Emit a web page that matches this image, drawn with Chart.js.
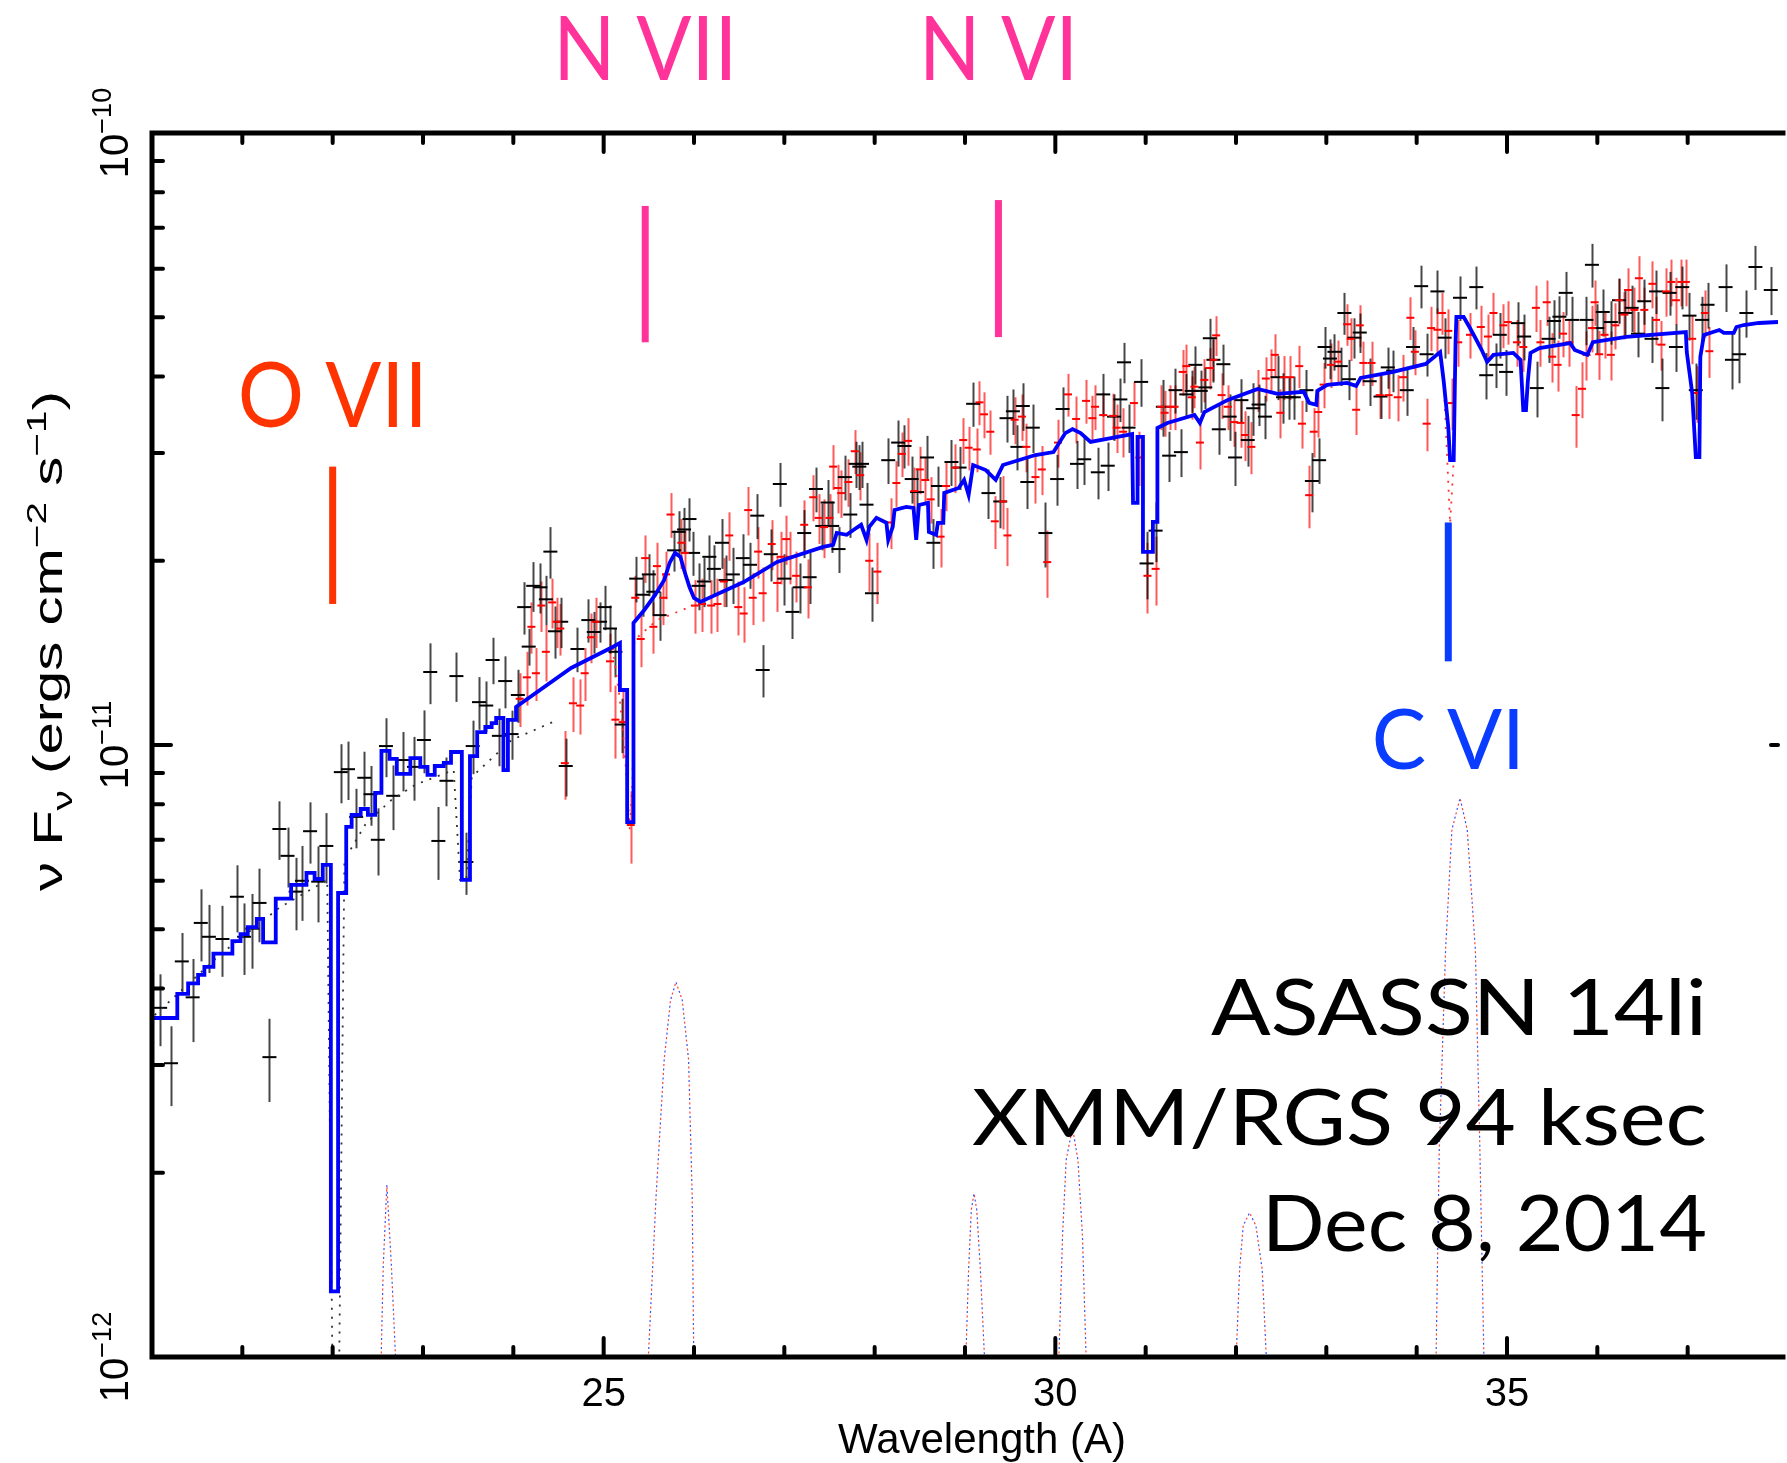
<!DOCTYPE html>
<html>
<head>
<meta charset="utf-8">
<title>ASASSN 14li RGS spectrum</title>
<script src="https://cdn.jsdelivr.net/npm/chart.js"></script>
<style>
  html, body { margin: 0; padding: 0; background: #fff; }
  #wrap { width: 1787px; height: 1463px; }
</style>
</head>
<body>
<div id="wrap"><canvas id="spec" width="1787" height="1463"></canvas></div>
<script>
// flux values are in units of 1e-11 ergs cm^-2 s^-1
const UNIT = 1e-11;

// best-fit model (blue histogram)
const modelWl = [20.00,20.28,20.28,20.40,20.40,20.51,20.51,20.58,20.58,20.68,20.68,20.89,20.89,20.98,20.98,21.06,21.06,21.16,21.16,21.23,21.23,21.37,21.37,21.54,21.54,21.71,21.71,21.80,21.80,21.89,21.89,21.98,21.98,22.06,22.06,22.15,22.15,22.21,22.21,22.31,22.31,22.39,22.39,22.47,22.47,22.54,22.54,22.63,22.63,22.71,22.71,22.86,22.86,22.97,22.97,23.05,23.05,23.13,23.13,23.23,23.23,23.31,23.31,23.43,23.43,23.52,23.52,23.60,23.60,23.69,23.69,23.76,23.76,23.81,23.81,23.89,23.89,23.94,23.94,24.03,24.03,24.64,25.10,25.18,25.18,25.26,25.26,25.33,25.33,25.45,25.57,25.67,25.73,25.79,25.85,25.89,25.95,26.00,26.07,26.55,26.92,27.43,27.54,27.58,27.69,27.80,27.85,27.91,27.94,28.02,28.13,28.15,28.20,28.22,28.35,28.43,28.46,28.49,28.59,28.60,28.68,28.70,28.76,28.77,28.93,28.99,29.04,29.09,29.23,29.34,29.42,29.78,29.98,30.11,30.19,30.28,30.39,30.63,30.85,30.86,30.91,30.91,30.97,30.97,31.08,31.08,31.13,31.13,31.24,31.54,31.60,31.65,31.91,32.24,32.46,32.75,32.81,32.89,32.90,33.01,33.23,33.33,33.38,33.74,34.10,34.26,34.30,34.35,34.37,34.41,34.43,34.44,34.52,34.59,34.65,34.72,34.78,34.85,35.07,35.15,35.18,35.21,35.23,35.26,35.36,35.70,35.75,35.89,35.95,36.32,36.98,36.99,37.05,37.09,37.13,37.14,37.18,37.35,37.40,37.51,37.54,37.62,37.79,38.00];
const modelFlux = [0.358,0.358,0.392,0.392,0.408,0.408,0.421,0.421,0.434,0.434,0.456,0.456,0.478,0.478,0.491,0.491,0.504,0.504,0.520,0.520,0.476,0.476,0.561,0.561,0.591,0.591,0.618,0.618,0.604,0.604,0.637,0.637,0.128,0.128,0.573,0.573,0.735,0.735,0.769,0.769,0.786,0.786,0.769,0.769,0.835,0.835,0.978,0.978,0.949,0.949,0.897,0.897,0.952,0.952,0.921,0.921,0.894,0.894,0.924,0.924,0.935,0.935,0.974,0.974,0.602,0.602,0.959,0.959,1.050,1.050,1.070,1.070,1.086,1.086,1.107,1.107,0.910,0.910,1.099,1.099,1.154,1.336,1.446,1.468,1.230,1.230,0.748,0.748,1.583,1.662,1.759,1.860,1.984,2.060,2.029,1.932,1.812,1.739,1.713,1.846,1.991,2.107,2.123,2.221,2.205,2.264,2.290,2.163,2.272,2.350,2.307,2.163,2.272,2.421,2.449,2.440,2.163,2.467,2.486,2.229,2.205,2.307,2.307,2.581,2.630,2.712,2.561,2.867,2.813,2.712,2.867,2.977,3.010,3.233,3.282,3.233,3.127,3.175,3.221,2.486,2.486,3.187,3.187,2.068,2.068,2.315,2.315,3.296,3.358,3.461,3.358,3.500,3.663,3.818,3.747,3.776,3.622,3.595,3.790,3.877,3.906,3.862,3.980,4.071,4.195,4.385,3.921,3.307,2.922,2.922,4.536,5.004,5.004,4.801,4.624,4.420,4.226,4.339,4.372,4.258,3.527,3.527,3.921,4.372,4.453,4.536,4.420,4.339,4.553,4.642,4.730,4.385,3.762,2.954,2.954,4.305,4.677,4.766,4.713,4.713,4.820,4.856,4.893,4.911];

// continuum model without lines (dotted)
const contBlackWl = [20.03,20.75,21.41,21.94,22.00,22.07,22.13,22.37,22.65,22.92,23.34,23.41,23.48,23.54,23.98,24.49];
const contBlackFlux = [0.362,0.454,0.542,0.602,0.09,0.09,0.649,0.745,0.813,0.862,0.910,0.602,0.602,0.887,1.019,1.099];
const contRedWl = [25.10,25.18,25.24,25.29,25.32,25.34,25.59,25.95,26.11,null,34.30,34.37,34.41];
const contRedFlux = [1.44,1.184,0.945,0.726,0.877,1.484,1.60,1.68,1.713,null,3.92,2.30,2.92];

// emission line components (dotted)
const lineAWl = [22.53,22.56,22.60,22.65,22.71];
const lineAFlux = [0.09,0.141,0.191,0.141,0.09];
const lineBWl = [25.48,25.58,25.67,25.74,25.80,25.87,25.94,25.98,26.00];
const lineBFlux = [0.09,0.183,0.306,0.383,0.410,0.383,0.306,0.183,0.09];
const lineCWl = [29.00,29.04,29.07,29.10,29.13,29.17,29.23];
const lineCFlux = [0.09,0.139,0.174,0.185,0.174,0.139,0.09];
const lineDWl = [30.03,30.08,30.12,30.19,30.25,30.30,30.35];
const lineDFlux = [0.09,0.158,0.210,0.237,0.210,0.158,0.09];
const lineEWl = [31.99,32.04,32.08,32.15,32.22,32.29,32.35];
const lineEFlux = [0.09,0.139,0.164,0.172,0.164,0.139,0.09];
const lineFWl = [34.21,34.25,34.32,34.39,34.48,34.56,34.65,34.70,34.75];
const lineFFlux = [0.09,0.218,0.462,0.727,0.819,0.727,0.462,0.218,0.09];

// RGS1 data (black)
const rgs1Wl = [20.09,20.21,20.33,20.45,20.54,20.63,20.78,20.94,21.02,21.11,21.19,21.30,21.41,21.50,21.59,21.66,21.75,21.84,21.93,22.09,22.17,22.26,22.35,22.42,22.50,22.59,22.67,22.78,22.90,23.01,23.08,23.17,23.26,23.37,23.48,23.55,23.62,23.70,23.77,23.84,23.91,23.98,24.05,24.12,24.17,24.22,24.30,24.36,24.41,24.46,24.53,24.58,24.71,24.83,24.89,24.96,25.01,25.07,25.13,25.20,25.36,25.43,25.50,25.55,25.62,25.78,25.83,25.89,25.95,25.99,26.05,26.11,26.17,26.22,26.31,26.35,26.43,26.54,26.62,26.70,26.76,26.85,26.95,27.00,27.09,27.17,27.22,27.28,27.35,27.42,27.48,27.53,27.60,27.67,27.73,27.79,27.83,27.86,27.91,27.97,28.15,28.26,28.33,28.41,28.47,28.58,28.65,28.70,28.85,28.94,29.09,29.26,29.39,29.46,29.53,29.58,29.64,29.69,29.75,29.89,30.02,30.08,30.24,30.32,30.47,30.53,30.58,30.65,30.72,30.76,30.81,30.95,31.01,31.11,31.19,31.26,31.33,31.39,31.45,31.51,31.55,31.61,31.66,31.71,31.75,31.81,31.86,31.93,31.99,32.06,32.13,32.19,32.25,32.32,32.46,32.52,32.59,32.64,32.78,32.84,32.92,32.98,33.04,33.09,33.16,33.20,33.25,33.31,33.37,33.48,33.60,33.68,33.74,33.89,33.96,34.05,34.11,34.23,34.31,34.48,34.66,34.77,34.88,34.92,34.99,35.12,35.19,35.33,35.46,35.52,35.58,35.65,35.72,35.88,35.94,36.00,36.06,36.15,36.24,36.31,36.38,36.45,36.52,36.60,36.65,36.72,36.80,36.87,36.94,37.02,37.09,37.16,37.22,37.42,37.49,37.57,37.65,37.75,37.92];
const rgs1Flux = [0.372,0.302,0.443,0.387,0.512,0.486,0.482,0.565,0.486,0.501,0.552,0.309,0.729,0.659,0.576,0.600,0.723,0.598,0.684,0.903,0.913,0.763,0.884,0.831,0.700,0.996,0.826,0.945,0.921,1.019,1.316,0.697,0.874,1.296,0.644,0.996,1.175,1.160,1.377,1.035,1.272,1.042,1.207,1.680,1.448,1.820,1.810,1.730,2.070,1.534,1.590,0.924,1.435,1.600,1.530,1.590,1.680,1.550,1.420,1.080,1.870,1.760,1.900,1.780,1.630,2.080,2.230,2.250,2.340,2.060,1.820,1.850,2.030,1.940,2.140,1.860,1.900,2.020,1.970,2.370,1.326,2.050,2.670,1.870,1.650,1.810,2.220,1.880,2.620,2.280,2.490,2.280,2.090,2.740,2.380,2.880,2.850,2.880,2.470,1.770,2.920,3.120,3.080,2.720,2.590,2.950,2.140,2.650,2.900,2.840,3.610,2.580,2.500,3.420,3.510,3.070,3.580,2.690,3.300,2.220,2.720,3.540,2.880,2.930,2.790,3.740,2.860,3.440,3.670,4.220,3.300,3.920,1.980,2.240,3.570,2.970,3.800,3.010,3.740,3.790,4.180,3.790,3.840,4.620,4.260,3.280,4.190,3.440,2.950,3.660,3.150,3.550,3.600,3.440,3.990,3.700,3.700,3.700,3.800,2.700,2.920,4.470,4.280,4.390,4.160,5.080,3.960,4.630,4.720,3.930,3.710,4.140,4.090,3.800,4.470,5.620,4.350,5.510,4.630,5.380,5.600,4.020,4.180,4.680,4.070,4.890,4.650,3.830,4.610,4.930,5.010,5.480,4.950,4.950,6.090,4.800,5.100,4.910,5.330,5.080,5.180,4.700,5.310,4.610,5.510,3.830,5.480,4.470,5.600,5.030,3.800,4.950,5.240,5.600,4.260,4.350,5.080,6.040,5.540];
const rgs1Err = [0.050,0.045,0.050,0.060,0.069,0.062,0.064,0.071,0.065,0.070,0.076,0.048,0.080,0.074,0.078,0.084,0.083,0.085,0.090,0.100,0.100,0.085,0.091,0.093,0.088,0.110,0.100,0.105,0.110,0.120,0.150,0.095,0.080,0.120,0.075,0.100,0.116,0.110,0.120,0.112,0.124,0.096,0.120,0.165,0.100,0.170,0.170,0.160,0.200,0.150,0.150,0.100,0.120,0.130,0.120,0.120,0.140,0.140,0.130,0.110,0.160,0.140,0.150,0.150,0.150,0.160,0.180,0.190,0.190,0.170,0.160,0.170,0.170,0.180,0.200,0.180,0.200,0.190,0.170,0.200,0.130,0.200,0.220,0.180,0.160,0.170,0.200,0.180,0.220,0.200,0.220,0.220,0.180,0.230,0.200,0.250,0.240,0.250,0.210,0.180,0.250,0.270,0.250,0.240,0.240,0.250,0.200,0.200,0.250,0.230,0.300,0.240,0.240,0.300,0.300,0.260,0.320,0.260,0.300,0.270,0.260,0.300,0.260,0.270,0.270,0.300,0.260,0.300,0.300,0.320,0.300,0.350,0.250,0.250,0.380,0.280,0.320,0.270,0.300,0.300,0.300,0.300,0.300,0.350,0.350,0.300,0.320,0.300,0.300,0.300,0.300,0.350,0.280,0.280,0.330,0.350,0.300,0.300,0.300,0.300,0.250,0.350,0.320,0.300,0.300,0.400,0.300,0.350,0.350,0.350,0.300,0.320,0.320,0.350,0.350,0.450,0.350,0.450,0.350,0.450,0.450,0.350,0.350,0.400,0.350,0.400,0.400,0.400,0.400,0.400,0.400,0.450,0.450,0.450,0.500,0.450,0.450,0.400,0.450,0.450,0.450,0.400,0.450,0.400,0.450,0.450,0.450,0.400,0.450,0.450,0.400,0.450,0.450,0.500,0.450,0.450,0.450,0.500,0.500];

// RGS2 data (red)
const rgs2Wl = [24.07,24.15,24.20,24.25,24.31,24.36,24.43,24.48,24.52,24.57,24.66,24.74,24.79,24.86,24.91,25.07,25.13,25.21,25.30,25.35,25.41,25.46,25.55,25.59,25.66,25.69,25.74,25.86,25.90,26.01,26.09,26.19,26.26,26.33,26.39,26.49,26.55,26.60,26.65,26.71,26.76,26.86,26.92,26.96,27.02,27.06,27.13,27.22,27.26,27.32,27.38,27.44,27.50,27.54,27.59,27.63,27.71,27.78,27.84,27.94,28.03,28.18,28.24,28.30,28.37,28.44,28.50,28.56,28.62,28.73,28.79,28.89,28.98,29.04,29.13,29.16,29.21,29.28,29.33,29.42,29.47,29.55,29.63,29.68,29.78,29.85,29.91,30.03,30.14,30.23,30.34,30.41,30.44,30.53,30.64,30.68,30.75,30.87,30.93,31.02,31.11,31.17,31.21,31.27,31.32,31.41,31.45,31.51,31.54,31.60,31.65,31.71,31.75,31.78,31.84,31.91,31.98,32.05,32.10,32.17,32.24,32.33,32.39,32.43,32.49,32.53,32.60,32.70,32.73,32.81,32.86,32.91,32.97,33.05,33.13,33.23,33.27,33.33,33.37,33.41,33.50,33.59,33.69,33.79,33.85,33.93,33.98,34.11,34.16,34.23,34.28,34.35,34.39,34.46,34.59,34.71,34.79,34.85,34.96,35.01,35.11,35.18,35.32,35.37,35.44,35.50,35.56,35.62,35.69,35.76,35.83,35.88,35.94,35.97,36.02,36.08,36.15,36.20,36.24,36.30,36.34,36.41,36.46,36.52,36.61,36.65,36.71,36.76,36.82,36.87,36.93,36.98,37.05,37.10,37.19,37.24];
const rgs2Flux = [1.19,1.29,1.56,1.31,1.69,1.42,1.71,1.59,1.55,0.934,1.17,1.16,1.31,1.50,1.59,1.37,1.10,1.09,0.74,1.74,1.49,2.02,1.56,1.96,1.74,1.90,2.38,2.14,2.06,1.69,1.70,1.69,1.70,1.85,2.20,1.68,1.64,2.42,1.74,2.07,1.77,2.13,1.84,2.03,2.17,2.03,1.89,2.29,1.81,2.54,2.35,2.27,2.35,2.85,2.63,2.58,2.69,3.02,2.76,2.00,1.92,2.31,2.68,2.99,3.14,2.60,2.82,2.71,2.52,2.19,2.65,2.84,3.15,3.06,3.04,3.63,3.47,3.25,2.32,2.50,2.20,3.40,3.44,3.07,2.74,2.82,1.99,3.12,3.74,3.41,3.65,3.42,3.57,3.46,3.45,3.30,3.25,3.62,2.95,1.89,1.94,3.57,3.49,3.57,3.57,4.07,4.16,3.70,3.85,3.12,3.95,4.13,4.26,4.67,3.73,3.57,3.37,3.36,3.21,3.07,3.80,3.97,4.10,4.34,3.49,3.99,3.99,4.16,3.35,2.56,3.25,3.50,3.88,4.18,4.23,4.87,4.61,3.53,4.85,4.21,4.21,3.73,3.73,3.70,3.99,4.99,4.39,3.35,4.80,4.77,5.08,4.75,3.62,4.55,4.68,4.82,4.65,5.08,4.85,4.91,4.55,4.47,5.18,4.55,5.29,4.31,4.18,4.70,4.55,3.46,3.82,4.34,4.80,5.29,4.35,4.68,4.34,4.85,5.33,5.05,5.54,5.14,5.79,5.14,5.67,4.95,4.51,5.51,5.71,5.33,5.71,5.71,4.61,3.76,5.08,4.40];
const rgs2Err = [0.12,0.13,0.15,0.13,0.16,0.15,0.16,0.15,0.15,0.12,0.12,0.12,0.13,0.14,0.15,0.15,0.15,0.14,0.10,0.15,0.15,0.18,0.15,0.18,0.17,0.17,0.20,0.20,0.18,0.17,0.17,0.17,0.17,0.17,0.20,0.17,0.17,0.22,0.17,0.20,0.18,0.20,0.19,0.20,0.20,0.20,0.18,0.22,0.20,0.22,0.22,0.25,0.22,0.24,0.24,0.23,0.24,0.25,0.25,0.22,0.22,0.22,0.23,0.25,0.28,0.24,0.25,0.24,0.22,0.24,0.24,0.26,0.27,0.25,0.25,0.30,0.30,0.27,0.23,0.25,0.24,0.30,0.30,0.28,0.26,0.26,0.25,0.28,0.30,0.30,0.30,0.30,0.30,0.30,0.30,0.30,0.30,0.30,0.30,0.25,0.25,0.30,0.30,0.30,0.30,0.35,0.35,0.30,0.30,0.30,0.32,0.32,0.33,0.35,0.32,0.30,0.30,0.30,0.30,0.30,0.30,0.33,0.33,0.35,0.32,0.33,0.33,0.33,0.30,0.30,0.30,0.32,0.33,0.35,0.35,0.38,0.37,0.32,0.38,0.35,0.35,0.32,0.32,0.32,0.35,0.40,0.37,0.33,0.40,0.40,0.40,0.40,0.35,0.40,0.40,0.40,0.40,0.40,0.40,0.40,0.40,0.40,0.45,0.40,0.45,0.40,0.40,0.40,0.40,0.40,0.40,0.40,0.42,0.45,0.40,0.40,0.40,0.42,0.45,0.45,0.47,0.45,0.50,0.45,0.50,0.45,0.42,0.50,0.50,0.47,0.50,0.50,0.42,0.40,0.45,0.42];

// line identifications
const ionNames = ['O VII', 'N VII', 'N VI', 'C VI'];
const ionWl = [22.00, 25.46, 29.37, 34.35];
const ionBarTop = [2.85, 7.60, 7.77, 2.31];
const ionBarBottom = [1.70, 4.55, 4.64, 1.37];
const ionColors = ['#ff3300', '#ff3399', '#ff3399', '#0a3cff'];

const titleLines = ['ASASSN 14li', 'XMM/RGS 94 ksec', 'Dec 8, 2014'];

const xMajor = [25, 30, 35];

// ---- build datasets ----
function pts(wl, fl, er) {
  return wl.map((w, i) => ({
    x: w === null ? 0 : w,
    y: fl[i] === null ? null : fl[i] * UNIT,
    e: er ? er[i] * UNIT : 0
  }));
}
const model = pts(modelWl, modelFlux);
const contBlack = pts(contBlackWl, contBlackFlux);
const contRed = pts(contRedWl, contRedFlux).map((p, i) => contRedWl[i] === null ? { x: 30, y: null } : p);
const gauss = [];
[[lineAWl, lineAFlux], [lineBWl, lineBFlux], [lineCWl, lineCFlux], [lineDWl, lineDFlux], [lineEWl, lineEFlux], [lineFWl, lineFFlux]].forEach(([w, f]) => {
  pts(w, f).forEach(p => gauss.push(p));
  gauss.push({ x: w[w.length - 1] + 0.01, y: null });
});
const rgs1 = pts(rgs1Wl, rgs1Flux, rgs1Err);
const rgs2 = pts(rgs2Wl, rgs2Flux, rgs2Err);

const SANS = '"Liberation Sans", Arial, Helvetica, sans-serif';
const TITLE_FONT = 'Lato, "Open Sans", sans-serif';

// vertical error bars, drawn under the model
const errorBars = {
  id: 'errorBars',
  beforeDatasetsDraw(chart) {
    const { ctx, chartArea: a, scales: { x, y } } = chart;
    ctx.save();
    ctx.beginPath();
    ctx.rect(a.left, a.top, a.right - a.left, a.bottom - a.top);
    ctx.clip();
    chart.data.datasets.forEach(ds => {
      if (!ds.errorColor) return;
      ctx.strokeStyle = ds.errorColor;
      ctx.lineWidth = 2;
      ds.data.forEach(p => {
        const px = Math.round(x.getPixelForValue(p.x)) + 0.5;
        ctx.beginPath();
        ctx.moveTo(px, y.getPixelForValue(p.y + p.e));
        ctx.lineTo(px, y.getPixelForValue(Math.max(p.y - p.e, 1e-13)));
        ctx.stroke();
      });
    });
    ctx.restore();
  }
};

function richDraw(ctx, parts, base, x0, y0, measureOnly) {
  let x = x0;
  for (const p of parts) {
    ctx.font = Math.round(base * p.s) + 'px ' + SANS;
    if (!measureOnly) ctx.fillText(p.t, x, y0 + p.dy * base);
    x += ctx.measureText(p.t).width;
  }
  return x - x0;
}

// frame, ticks and axis texts
const frame = {
  id: 'frame',
  afterDraw(chart) {
    const { ctx, chartArea: a, scales: { x, y } } = chart;
    ctx.save();
    ctx.strokeStyle = '#000';
    ctx.fillStyle = '#000';
    ctx.lineWidth = 5;
    ctx.lineCap = 'square';
    ctx.beginPath();
    ctx.moveTo(a.right + 5, a.top);
    ctx.lineTo(a.left, a.top);
    ctx.lineTo(a.left, a.bottom);
    ctx.lineTo(a.right + 5, a.bottom);
    ctx.stroke();

    ctx.lineWidth = 4;
    ctx.lineCap = 'round';
    for (let v = 21; v <= 37; v++) {
      const px = x.getPixelForValue(v);
      const len = xMajor.includes(v) ? 19 : 10;
      ctx.beginPath();
      ctx.moveTo(px, a.bottom); ctx.lineTo(px, a.bottom - len);
      ctx.moveTo(px, a.top); ctx.lineTo(px, a.top + len);
      ctx.stroke();
    }
    [-12, -11, -10].forEach(d => {
      for (let m = 1; m <= 9; m++) {
        const v = m * Math.pow(10, d);
        if (v <= 1e-12 || v >= 1e-10) continue;
        const py = y.getPixelForValue(v);
        const len = m === 1 ? 19 : 11;
        ctx.beginPath();
        ctx.moveTo(a.left, py); ctx.lineTo(a.left + len, py);
        ctx.stroke();
        if (m === 1) {
          ctx.beginPath();
          ctx.moveTo(a.right, py); ctx.lineTo(a.right - 7, py);
          ctx.stroke();
        }
      }
    });

    // x tick labels
    ctx.font = '40px ' + SANS;
    ctx.textAlign = 'center';
    ctx.textBaseline = 'alphabetic';
    xMajor.forEach(v => ctx.fillText(String(v), x.getPixelForValue(v), a.bottom + 49));

    // y tick labels, rotated
    ctx.textAlign = 'left';
    [-12, -11, -10].forEach(d => {
      const parts = [{ t: '10', s: 1, dy: 0 }, { t: '\u2212' + String(-d), s: 0.68, dy: -0.42 }];
      const w = richDraw(ctx, parts, 40, 0, 0, true);
      ctx.save();
      ctx.translate(a.left - 24, y.getPixelForValue(Math.pow(10, d)));
      ctx.rotate(-Math.PI / 2);
      richDraw(ctx, parts, 40, -w / 2, 0);
      ctx.restore();
    });

    // axis titles
    ctx.font = '42px ' + SANS;
    ctx.textAlign = 'center';
    ctx.fillText('Wavelength (A)', 982, a.bottom + 96);

    ctx.textAlign = 'left';
    const yt = [
      { t: '\u03bd F', s: 1, dy: 0 }, { t: '\u03bd', s: 0.7, dy: 0.25 },
      { t: ' (ergs cm', s: 1, dy: 0 }, { t: '\u22122', s: 0.7, dy: -0.4 },
      { t: ' s', s: 1, dy: 0 }, { t: '\u22121', s: 0.7, dy: -0.4 }, { t: ')', s: 1, dy: 0 }
    ];
    const tw = richDraw(ctx, yt, 40, 0, 0, true);
    const target = 500;
    ctx.save();
    ctx.translate(62, 641);
    ctx.rotate(-Math.PI / 2);
    ctx.scale(target / tw, 1);
    richDraw(ctx, yt, 40, -tw / 2, 0);
    ctx.restore();
    ctx.restore();
  }
};

function fitText(ctx, str, x0, baseline, size, width, align) {
  ctx.font = size + 'px ' + TITLE_FONT;
  const w = ctx.measureText(str).width;
  ctx.save();
  ctx.translate(x0, baseline);
  ctx.scale(width / w, 1);
  ctx.textAlign = align;
  ctx.fillText(str, 0, 0);
  ctx.restore();
}

// ion markers and the observation title
const annotations = {
  id: 'annotations',
  afterDraw(chart) {
    const { ctx, scales: { x, y } } = chart;
    ctx.save();
    ctx.textBaseline = 'alphabetic';
    const textPos = [[427, 91, 190], [80, 89, 184], [80, 89, 159], [769, 84, 153]];
    ionNames.forEach((name, i) => {
      const px = x.getPixelForValue(ionWl[i]);
      ctx.fillStyle = ionColors[i];
      ctx.fillRect(px - 3.5, y.getPixelForValue(ionBarTop[i] * UNIT), 7,
        y.getPixelForValue(ionBarBottom[i] * UNIT) - y.getPixelForValue(ionBarTop[i] * UNIT));
      const [base, size, w] = textPos[i];
      fitText(ctx, name, px, base, size, w, 'center');
    });
    ctx.fillStyle = '#000';
    const tl = [[1035, 496], [1145, 735], [1251, 445]];
    titleLines.forEach((s, i) => fitText(ctx, s, 1707, tl[i][0], 77, tl[i][1], 'right'));
    ctx.restore();
  }
};

new Chart(document.getElementById('spec'), {
  type: 'line',
  data: {
    datasets: [
      { label: 'model', data: model, borderColor: '#0000ff', borderWidth: 3.8, pointRadius: 0, fill: false },
      { label: 'lines blue', data: gauss, borderColor: '#3a4cff', borderWidth: 1.2, borderDash: [2, 7], pointRadius: 0 },
      { label: 'lines red', data: gauss, borderColor: '#ff3a3a', borderWidth: 1.2, borderDash: [2, 7], borderDashOffset: 4.5, pointRadius: 0 },
      { label: 'continuum 1', data: contBlack, borderColor: '#333333', borderWidth: 1.8, borderDash: [2, 7], pointRadius: 0 },
      { label: 'continuum 2', data: contRed, borderColor: '#ff3030', borderWidth: 1.8, borderDash: [2, 7], pointRadius: 0 },
      { label: 'RGS2', data: rgs2, showLine: false, pointStyle: 'line', pointRadius: 4,
        pointBorderColor: '#ff0000', pointBorderWidth: 2, errorColor: 'rgba(255,0,0,0.65)' },
      { label: 'RGS1', data: rgs1, showLine: false, pointStyle: 'line', pointRadius: 7,
        pointBorderColor: '#000000', pointBorderWidth: 2, errorColor: 'rgba(0,0,0,0.72)' }
    ]
  },
  options: {
    responsive: false,
    animation: false,
    devicePixelRatio: 1,
    layout: { padding: { left: 152, top: 133, right: 0, bottom: 106 } },
    plugins: { legend: { display: false }, tooltip: { enabled: false } },
    elements: { line: { tension: 0 } },
    scales: {
      x: { type: 'linear', min: 20, max: 38, display: false },
      y: { type: 'logarithmic', min: 1e-12, max: 1e-10, display: false }
    }
  },
  plugins: [errorBars, frame, annotations]
});
</script>
</body>
</html>
